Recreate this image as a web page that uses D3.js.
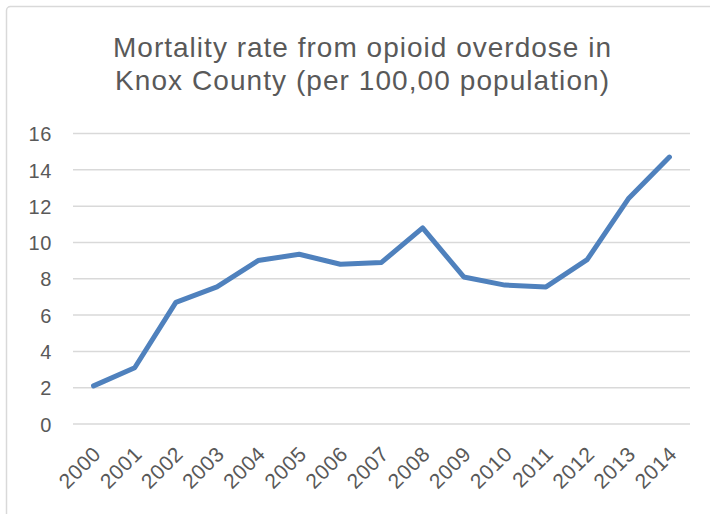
<!DOCTYPE html>
<html>
<head>
<meta charset="utf-8">
<script src="https://cdn.jsdelivr.net/npm/d3@7"></script>
<style>
  html, body { margin: 0; padding: 0; background: #ffffff; }
  svg { display: block; }
</style>
</head>
<body>
<svg id="chart" width="710" height="514"></svg>
<script>
// Opioid overdose mortality rate, Knox County, per 100,000 population
const years = ["2000","2001","2002","2003","2004","2005","2006","2007",
               "2008","2009","2010","2011","2012","2013","2014"];
const rates = [2.1, 3.1, 6.7, 7.55, 9.0, 9.35, 8.8, 8.9,
               10.8, 8.1, 7.65, 7.55, 9.05, 12.4, 14.7];
const yTicks = [0, 2, 4, 6, 8, 10, 12, 14, 16];
const titleLines = ["Mortality rate from opioid overdose in",
                    "Knox County (per 100,00 population)"];

const svg = d3.select("#chart");
const W = 710, H = 514;
const font = "'Liberation Sans', Arial, sans-serif";
const textColor = "#595959";

// outer chart frame (extends past the right and bottom edges)
svg.append("rect")
  .attr("x", 6.5).attr("y", 6.5)
  .attr("width", W + 20).attr("height", H + 20)
  .attr("rx", 4)
  .attr("fill", "#ffffff")
  .attr("stroke", "#d9d9d9")
  .attr("stroke-width", 1.5);

const plot = { left: 73, right: 690, top: 133.5, bottom: 424 };

const x = d3.scalePoint()
  .domain(years)
  .range([plot.left, plot.right])
  .padding(0.5);

const y = d3.scaleLinear()
  .domain([0, 16])
  .range([plot.bottom, plot.top]);

// horizontal gridlines
svg.append("g")
  .selectAll("line")
  .data(yTicks)
  .join("line")
  .attr("x1", plot.left).attr("x2", plot.right)
  .attr("y1", d => y(d)).attr("y2", d => y(d))
  .attr("stroke", "#d9d9d9")
  .attr("stroke-width", 1.5);

// y axis labels
const yAxis = d3.axisLeft(y).tickValues(yTicks).tickSize(0).tickPadding(0);
const gy = svg.append("g")
  .attr("transform", `translate(${plot.left - 21},0)`)
  .call(yAxis);
gy.select(".domain").remove();
gy.selectAll("text")
  .attr("fill", textColor)
  .attr("font-family", font)
  .attr("font-size", 20)
  .attr("letter-spacing", 0.6)
  .attr("dy", "0.36em");

// x axis labels, rotated
const xAxis = d3.axisBottom(x).tickSize(0).tickPadding(0);
const gx = svg.append("g")
  .attr("transform", `translate(0,${plot.bottom})`)
  .call(xAxis);
gx.select(".domain").remove();
gx.selectAll("text")
  .attr("fill", textColor)
  .attr("font-family", font)
  .attr("font-size", 21)
  .attr("letter-spacing", 0.6)
  .attr("text-anchor", "end")
  .attr("dy", "0.35em")
  .attr("transform", "translate(3,26) rotate(-45)");

// data line
const line = d3.line()
  .x((d, i) => x(years[i]))
  .y(d => y(d));

svg.append("path")
  .datum(rates)
  .attr("d", line)
  .attr("fill", "none")
  .attr("stroke", "#4f81bd")
  .attr("stroke-width", 5)
  .attr("stroke-linejoin", "round")
  .attr("stroke-linecap", "round");

// title, two centred lines
const titleWidths = [498, 494];
svg.append("g")
  .selectAll("text")
  .data(titleLines)
  .join("text")
  .attr("x", 362)
  .attr("y", (d, i) => 57 + i * 32.5)
  .attr("text-anchor", "middle")
  .attr("fill", textColor)
  .attr("font-family", font)
  .attr("font-size", 28)
  .attr("textLength", (d, i) => titleWidths[i])
  .attr("lengthAdjust", "spacing")
  .text(d => d);
</script>
</body>
</html>
